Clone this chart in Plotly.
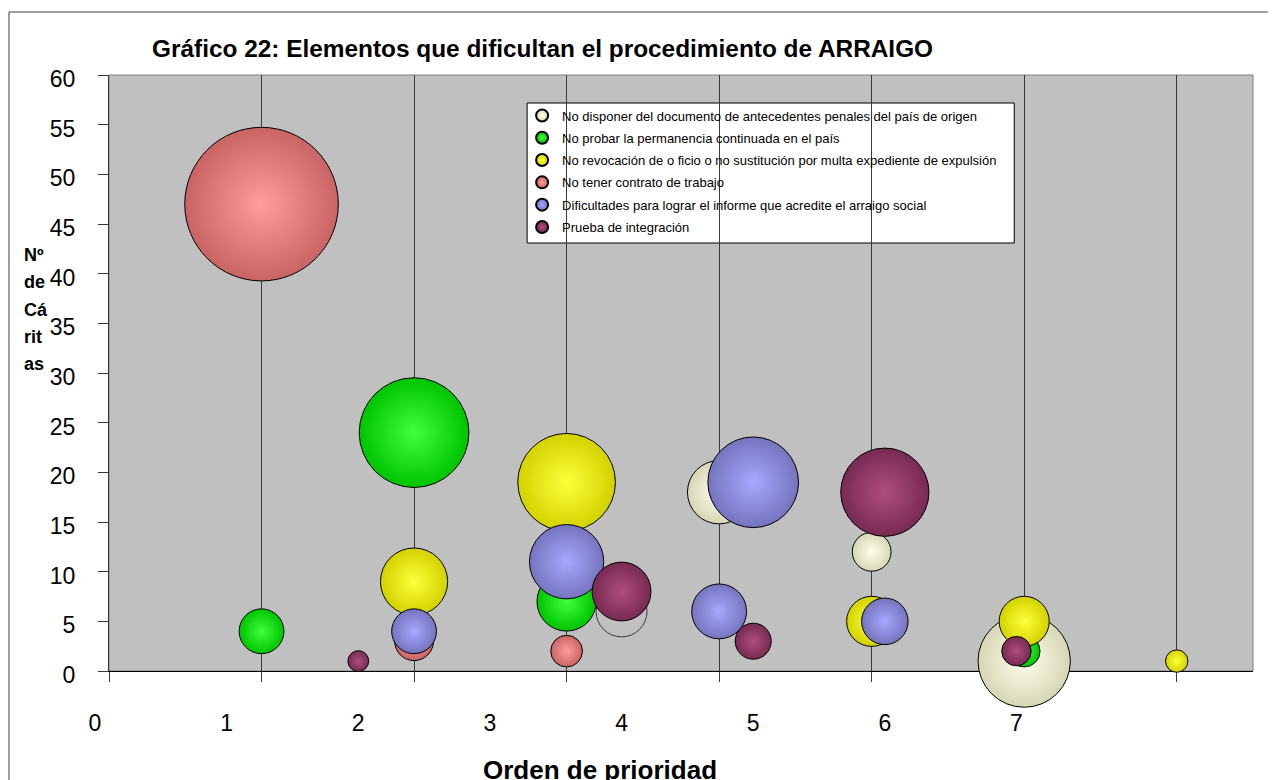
import plotly.graph_objects as go

# ---------------- data ----------------
title_text = "Gráfico 22: Elementos que dificultan el procedimiento de ARRAIGO"
x_title = "Orden de prioridad"
y_title_lines = ["Nº", "de", "Cá", "rit", "as"]

names = [
    "No disponer del documento de antecedentes penales del país de origen",
    "No probar la permanencia continuada en el país",
    "No revocación de o ficio o no sustitución por multa expediente de expulsión",
    "No tener contrato de trabajo",
    "Dificultades para lograr el informe que acredite el arraigo social",
    "Prueba de integración",
]

# primary horizontal axis series
cream_x = [4, 5, 6]
cream_y = [18, 12, 1]
cream_size = [8, 3, 17]

green_x = [1, 2, 3, 6]
green_y = [4, 24, 7, 2]
green_size = [4, 24, 7, 2]

yellow_x = [2, 3, 5, 6, 7]
yellow_y = [9, 19, 5, 5, 1]
yellow_size = [9, 19, 5, 5, 1]

red_x = [1, 2, 3]
red_y = [47, 3, 2]
red_size = [47, 3, 2]

blue_x = [2, 3, 4]
blue_y = [4, 11, 6]
blue_size = [4, 11, 6]

# secondary horizontal axis series
cream2_x = [4]
cream2_y = [6]
cream2_size = [6]

blue2_x = [5, 6]
blue2_y = [19, 5]
blue2_size = [19, 5]

purple_x = [2, 4, 5, 6, 7]
purple_y = [1, 8, 3, 18, 2]
purple_size = [1, 8, 3, 18, 2]

x_tick_labels = ["0", "1", "2", "3", "4", "5", "6", "7"]
x_tick_vals = [0, 1, 2, 3, 4, 5, 6, 7]
y_ticks = list(range(0, 61, 5))

# ---------------- style ----------------
FONT = "Liberation Sans, Arial, sans-serif"
SREF1 = 2 / 22.4 ** 2
SREF2 = 2 / 20.8 ** 2

# (edge colour, centre highlight colour)
styles = {
    "cream": ("#D6D6B6", "#FFFFEC"),
    "green": ("#00C400", "#40FF40"),
    "yellow": ("#D2D200", "#FFFF3A"),
    "red": ("#C86464", "#FF9C9C"),
    "blue": ("#7474BE", "#A8A8FF"),
    "purple": ("#782A52", "#AE4E7E"),
}


def bubble(x, y, s, name, key, axis="x", showlegend=True, sref=SREF1, hollow=False):
    e, c = styles[key]
    marker = dict(
        size=s, sizemode="area", sizeref=sref,
        color=e, gradient=dict(type="radial", color=c),
        line=dict(color="black", width=1), opacity=1,
    )
    if hollow:
        marker = dict(size=s, sizemode="area", sizeref=sref,
                      color="rgba(0,0,0,0)", line=dict(color="black", width=1))
    return go.Scatter(
        x=x, y=y, mode="markers", name=name, legendgroup=key,
        showlegend=showlegend, xaxis=axis, yaxis="y",
        marker=marker, cliponaxis=False,
    )


fig = go.Figure()
fig.add_trace(bubble(cream_x, cream_y, cream_size, names[0], "cream"))
fig.add_trace(bubble(green_x, green_y, green_size, names[1], "green"))
fig.add_trace(bubble(yellow_x, yellow_y, yellow_size, names[2], "yellow"))
fig.add_trace(bubble(red_x, red_y, red_size, names[3], "red"))
fig.add_trace(bubble(blue_x, blue_y, blue_size, names[4], "blue"))
fig.add_trace(bubble(cream2_x, cream2_y, cream2_size, names[0], "cream",
                     axis="x2", showlegend=False, sref=SREF2, hollow=True))
fig.add_trace(bubble(blue2_x, blue2_y, blue2_size, names[4], "blue",
                     axis="x2", showlegend=False, sref=SREF2))
fig.add_trace(bubble(purple_x, purple_y, purple_size, names[5], "purple",
                     axis="x2", sref=SREF2))
# empty trace that carries the category-label axis
fig.add_trace(go.Scatter(x=[], y=[], xaxis="x3", yaxis="y", mode="markers",
                         showlegend=False, hoverinfo="skip"))

# page offset (body margin) and geometry in window pixels
OFF = 8
W, H = 1276 - OFF, 780 - OFF
PL, PR, PT, PB = 109, 1252.7, 75, 671   # plot area in window pixels
L, T = PL - OFF, PT - OFF
R = W - (PR - OFF)
B = H - (PB - OFF)
pw = PR - PL
ph = PB - PT


def px_x(p):
    return (p - PL) / pw


def px_y(p):
    return (PB - p) / ph


fig.update_layout(
    width=W, height=H,
    margin=dict(l=L, r=R, t=T, b=B, pad=0),
    paper_bgcolor="white",
    plot_bgcolor="#C0C0C0",
    font=dict(family=FONT, color="black", size=13),
    showlegend=True,
    title=dict(
        text="<b>" + title_text + "</b>",
        font=dict(family=FONT, size=24.4, color="black"),
        x=(152 - OFF) / W, xref="container", xanchor="left",
        y=1 - (48 - OFF) / H, yref="container", yanchor="middle",
    ),
    xaxis=dict(
        range=[0, 7.5], tickmode="array", tickvals=x_tick_vals,
        showticklabels=False, ticks="outside", ticklen=10, tickcolor="#383838",
        showgrid=True, gridcolor="#383838", gridwidth=1.2,
        showline=True, linecolor="black", linewidth=1.2, zeroline=False,
        layer="below traces", fixedrange=True,
    ),
    xaxis2=dict(
        overlaying="x", anchor="y", range=[0.106, 8.797], visible=False,
        fixedrange=True,
    ),
    xaxis3=dict(
        overlaying="x", anchor="y", side="bottom", range=[0, 8.691],
        tickmode="array", tickvals=x_tick_vals, ticktext=x_tick_labels,
        ticks="", showgrid=False, showline=False, zeroline=False,
        ticklabelshift=-14, ticklabelstandoff=36,
        tickfont=dict(family=FONT, size=23, color="black"), fixedrange=True,
    ),
    yaxis=dict(
        range=[0, 60], tickmode="array", tickvals=y_ticks,
        ticks="outside", ticklen=10, tickcolor="#383838",
        showgrid=False, showline=True, linecolor="#383838", linewidth=1.2,
        zeroline=False, ticklabelstandoff=18, ticklabelshift=4,
        tickfont=dict(family=FONT, size=23, color="black"),
        layer="below traces", fixedrange=True,
    ),
    legend=dict(
        x=px_x(522), y=px_y(100.5), xanchor="left", yanchor="top",
        bgcolor="rgba(0,0,0,0)", borderwidth=0,
        font=dict(family=FONT, size=13, color="black"),
        itemsizing="constant", traceorder="grouped", tracegroupgap=2.4,
    ),
)

# y-axis title (stacked lines) and x-axis title
y_title = "<br>".join('<span style="font-size:18px">%s</span>' % s for s in y_title_lines)
fig.add_annotation(
    text="<b>" + y_title + "</b>", xref="paper", yref="paper",
    x=px_x(22), y=px_y(309), xanchor="left", yanchor="middle", align="left",
    showarrow=False, font=dict(family=FONT, size=21, color="black"),
)
fig.add_annotation(
    text="<b>" + x_title + "</b>", xref="paper", yref="paper",
    x=px_x(600), y=px_y(770), xanchor="center", yanchor="middle",
    showarrow=False, font=dict(family=FONT, size=26, color="black"),
)

# legend frame, plot frame and outer chart border
fig.add_shape(type="rect", xref="paper", yref="paper",
              x0=px_x(527), x1=px_x(1014), y0=px_y(243), y1=px_y(103),
              fillcolor="white", line=dict(color="black", width=1), layer="between")
fig.add_shape(type="rect", xref="paper", yref="paper",
              x0=0, x1=1, y0=0, y1=1,
              line=dict(color="#808080", width=1), layer="below")
fig.add_shape(type="rect", xref="paper", yref="paper",
              x0=px_x(9), x1=px_x(1271), y0=px_y(800), y1=px_y(12),
              line=dict(color="#404040", width=1), layer="below")

fig.write_html("out.html")
